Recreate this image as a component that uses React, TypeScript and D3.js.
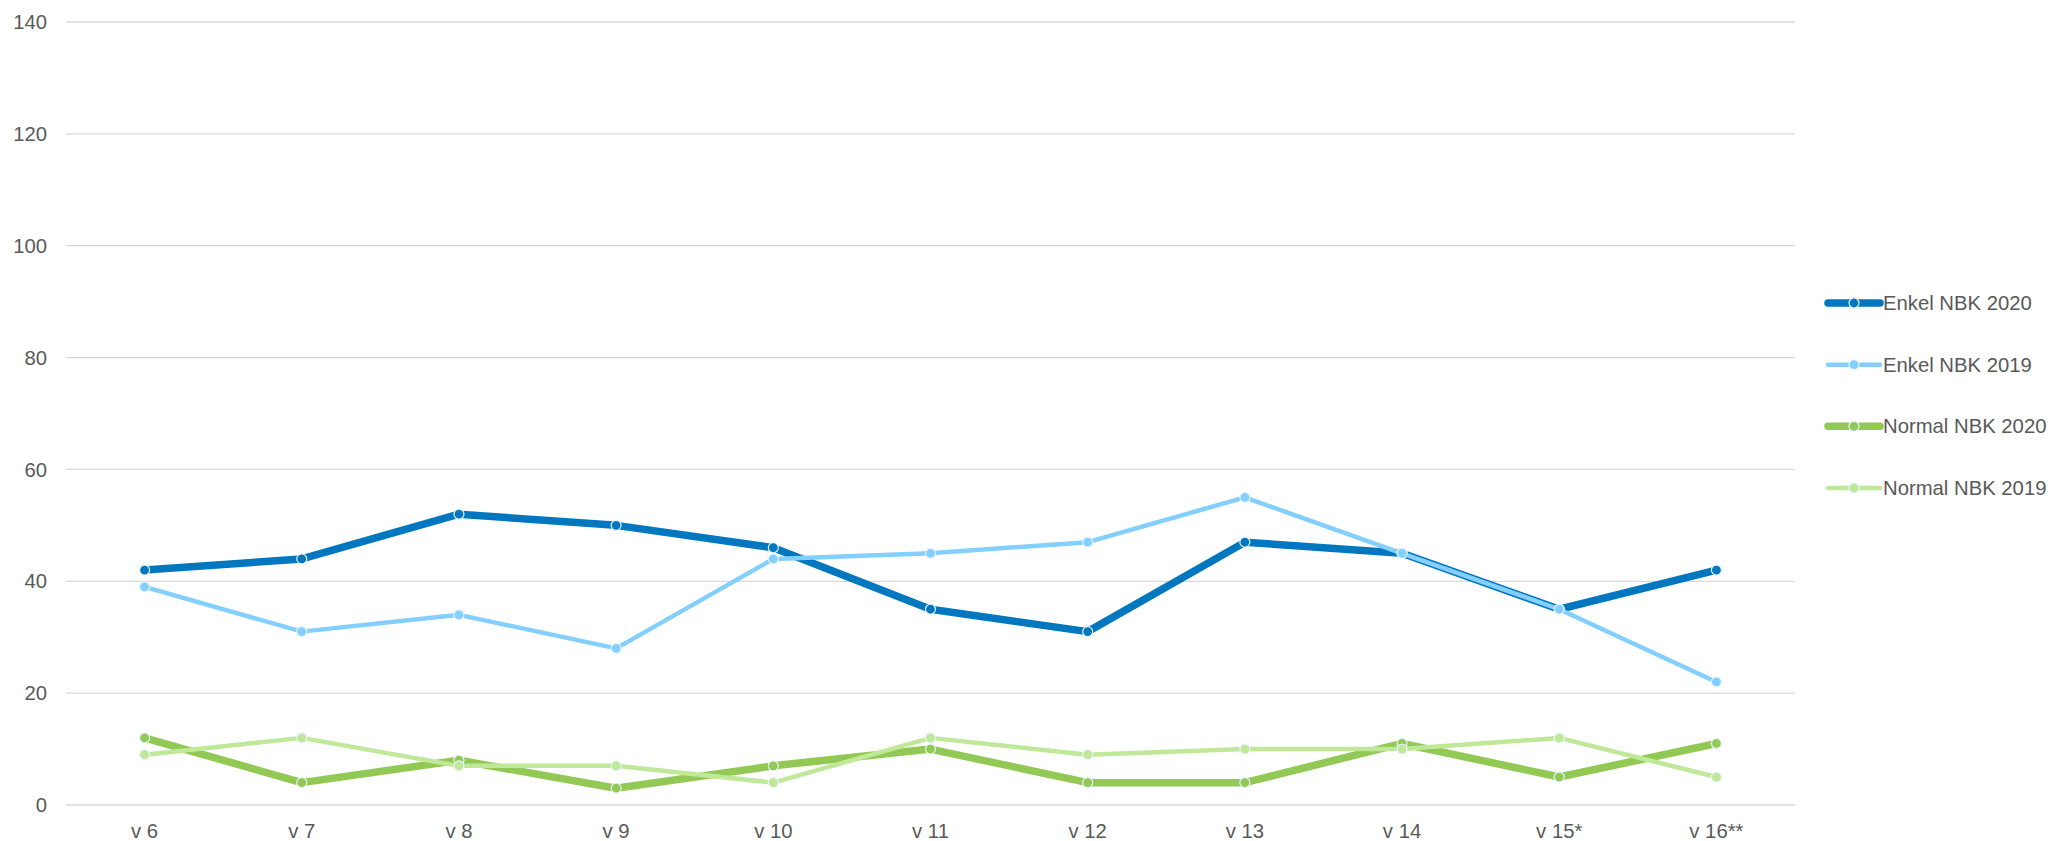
import { useMemo } from "react";
import * as d3 from "d3";

const WEEKS = ["v 6", "v 7", "v 8", "v 9", "v 10", "v 11", "v 12", "v 13", "v 14", "v 15*", "v 16**"];
const Y_TICKS = [0, 20, 40, 60, 80, 100, 120, 140];

const ENKEL_2020 = [42, 44, 52, 50, 46, 35, 31, 47, 45, 35, 42];
const ENKEL_2019 = [39, 31, 34, 28, 44, 45, 47, 55, 45, 35, 22];
const NORMAL_2020 = [12, 4, 8, 3, 7, 10, 4, 4, 11, 5, 11];
const NORMAL_2019 = [9, 12, 7, 7, 4, 12, 9, 10, 10, 12, 5];

const SERIES = [
  { name: "Enkel NBK 2020", values: ENKEL_2020, color: "#0077be", width: 7.5 },
  { name: "Enkel NBK 2019", values: ENKEL_2019, color: "#83cfff", width: 4.5 },
  { name: "Normal NBK 2020", values: NORMAL_2020, color: "#92c954", width: 7.5 },
  { name: "Normal NBK 2019", values: NORMAL_2019, color: "#bfe898", width: 4.5 },
];

const width = 2056;
const height = 841;
const plotLeft = 66;
const plotRight = 1795;
const plotTop = 22;
const plotBottom = 805;
const font = "'Liberation Sans', Arial, sans-serif";
const fontSize = 20.3;
const textColor = "#595959";

export default function App() {
  const x = useMemo(
    () => d3.scaleBand().domain(WEEKS).range([plotLeft, plotRight]),
    []
  );
  const y = useMemo(
    () => d3.scaleLinear().domain([0, 140]).range([plotBottom, plotTop]),
    []
  );
  const cx = (i: number) => (x(WEEKS[i]) ?? 0) + x.bandwidth() / 2;
  const line = d3
    .line<number>()
    .x((_, i) => cx(i))
    .y((d) => y(d));

  // legend rows
  const legendX = 1828;
  const legendY = d3.scalePoint().domain(SERIES.map((s) => s.name)).range([303, 488]);

  return (
    <svg
      width={width}
      height={height}
      style={{ position: "absolute", left: 0, top: 0, background: "#fff" }}
      fontFamily={font}
    >
      {/* grid + y labels */}
      {Y_TICKS.map((t) => (
        <g key={t}>
          <line x1={plotLeft} x2={plotRight} y1={y(t)} y2={y(t)} stroke="#d9d9d9" strokeWidth={1.3} />
          <text x={47} y={y(t)} dy="0.35em" textAnchor="end" fontSize={fontSize} fill={textColor}>
            {t}
          </text>
        </g>
      ))}

      {/* x labels */}
      {WEEKS.map((w, i) => (
        <text key={w} x={cx(i)} y={838} textAnchor="middle" fontSize={fontSize} fill={textColor}>
          {w}
        </text>
      ))}

      {/* lines */}
      {SERIES.map((s) => (
        <g key={s.name}>
          <path
            d={line(s.values) ?? ""}
            fill="none"
            stroke={s.color}
            strokeWidth={s.width}
            strokeLinejoin="round"
          />
          {s.values.map((v, i) => (
            <circle
              key={i}
              cx={cx(i)}
              cy={y(v)}
              r={5}
              fill={s.color}
              stroke="#e6f4ff"
              strokeWidth={1.2}
            />
          ))}
        </g>
      ))}

      {/* legend */}
      {SERIES.map((s) => {
        const ly = legendY(s.name) ?? 0;
        return (
          <g key={s.name}>
            <line
              x1={legendX}
              x2={legendX + 52}
              y1={ly}
              y2={ly}
              stroke={s.color}
              strokeWidth={s.width}
              strokeLinecap="round"
            />
            <circle cx={legendX + 26} cy={ly} r={5} fill={s.color} stroke="#e6f4ff" strokeWidth={1.2} />
            <text x={legendX + 55} y={ly} dy="0.35em" fontSize={fontSize} fill={textColor}>
              {s.name}
            </text>
          </g>
        );
      })}
    </svg>
  );
}
